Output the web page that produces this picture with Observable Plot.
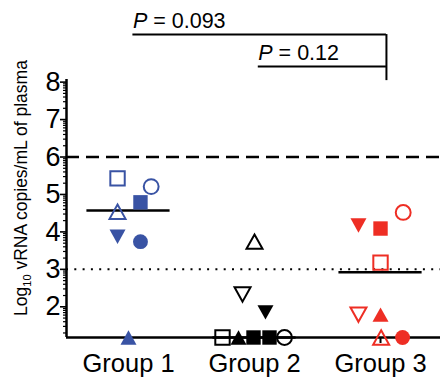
<!DOCTYPE html>
<html>
<head>
<meta charset="utf-8">
<script src="https://cdn.jsdelivr.net/npm/d3@7"></script>
<script src="https://cdn.jsdelivr.net/npm/@observablehq/plot@0.6"></script>
<style>
  html, body { margin: 0; padding: 0; background: #fff; }
  svg { display: block; }
</style>
</head>
<body>
<div id="chart"></div>
<script>
// ---- data ----
const groupLabels = ["Group 1", "Group 2", "Group 3"];
const groupColors = ["#3953a4", "#000000", "#ee2e24"];

const group1Values  = [5.43, 5.21, 4.79, 4.54, 3.87, 3.74, 1.18];
const group1Markers = ["square", "circle", "squareFilled", "triangle", "triangleDownFilled", "circleFilled", "triangleFilled"];
const group1Jitter  = [-0.087, 0.18, 0.095, -0.087, -0.087, 0.095, 0];

const group2Values  = [3.74, 2.33, 1.85, 1.18, 1.18, 1.18, 1.18, 1.18];
const group2Markers = ["triangle", "triangleDown", "triangleDownFilled", "square", "triangleFilled", "squareFilled", "squareFilled", "circle"];
const group2Jitter  = [0, -0.095, 0.087, -0.254, -0.127, -0.008, 0.119, 0.238];

const group3Values  = [4.52, 4.17, 4.09, 3.18, 1.79, 1.79, 1.18, 1.18];
const group3Markers = ["circle", "triangleDownFilled", "squareFilled", "square", "triangleDown", "triangleFilled", "triangle", "circleFilled"];
const group3Jitter  = [0.18, -0.175, 0, 0, -0.175, 0, 0.005, 0.175];

const summaryLines = [4.57, 1.18, 2.92];
const yTickLabels = [2, 3, 4, 5, 6, 7, 8];
const upperThreshold = 6;
const lowerThreshold = 3;
const detectionLimit = 1.18;
const comparisonFrom = [1, 2];
const comparisonTo = [3, 3];
const comparisonP = ["0.093", "0.12"];

// ---- build table ----
const allValues = [group1Values, group2Values, group3Values];
const allMarkers = [group1Markers, group2Markers, group3Markers];
const allJitter = [group1Jitter, group2Jitter, group3Jitter];
const rows = [];
allValues.forEach((vals, gi) => vals.forEach((v, i) => {
  const m = allMarkers[gi][i];
  const filled = m.endsWith("Filled");
  rows.push({
    g: gi + 1 + allJitter[gi][i],
    value: v,
    shape: m.replace("Filled", ""),
    fill: filled ? groupColors[gi] : "none",
    stroke: filled ? "none" : groupColors[gi]
  });
}));
const summaryRows = summaryLines.map((v, i) => ({g: i + 1, value: v}));

// log-style minor ticks
const minorTicks = [];
for (let k = 1; k < 8; k++) for (let m = 2; m <= 9; m++) {
  const t = k + Math.log10(m);
  if (t > detectionLimit && t < 8.07) minorTicks.push(t);
}

// custom symbols
const symbols = {
  square: {draw(c, s) { const r = Math.sqrt(s / Math.PI) * 0.9; c.rect(-r, -r, 2 * r, 2 * r); }},
  circle: {draw(c, s) { const r = Math.sqrt(s / Math.PI) * 0.93; c.moveTo(r, 0); c.arc(0, 0, r, 0, 2 * Math.PI); c.closePath(); }},
  triangle: {draw(c, s) { const r = Math.sqrt(s / Math.PI); c.moveTo(0, -0.9 * r); c.lineTo(r, 0.9 * r); c.lineTo(-r, 0.9 * r); c.closePath(); }},
  triangleDown: {draw(c, s) { const r = Math.sqrt(s / Math.PI); c.moveTo(0, 0.9 * r); c.lineTo(r, -0.9 * r); c.lineTo(-r, -0.9 * r); c.closePath(); }}
};

const xDomain = [0.508, 3.476];
const yDomain = [detectionLimit, 8.07];

// bracket levels (above the frame)
const bracketLevels = [9.27, 8.42];
const brackets = comparisonFrom.map((f, i) => ({
  x1: f + 0.035 + (i === 1 ? -0.005 : 0), x2: comparisonTo[i] + 0.047, y: bracketLevels[i], p: comparisonP[i]
}));

const dotMarks = Object.keys(symbols).map(k =>
  Plot.dot(rows.filter(d => d.shape === k), {
    x: "g", y: "value", symbol: symbols[k], r: 8,
    fill: "fill", stroke: "stroke", strokeWidth: 2
  })
);

const chart = Plot.plot({
  width: 440,
  height: 379,
  marginLeft: 66,
  marginRight: 0,
  marginTop: 79,
  marginBottom: 42,
  style: {fontFamily: "'Liberation Sans', Arial, Helvetica, sans-serif", background: "#fff", overflow: "visible", color: "#000"},
  x: {type: "linear", domain: xDomain, axis: null},
  y: {type: "linear", domain: yDomain, axis: null},
  color: {type: "identity"},
  marks: [
    Plot.ruleY([upperThreshold], {stroke: "#000", strokeWidth: 2.5, strokeDasharray: "13,7"}),
    Plot.ruleY([lowerThreshold], {stroke: "#000", strokeWidth: 2, strokeDasharray: "2,6.3"}),
    Plot.ruleY(summaryRows, {y: "value", x1: d => d.g - 0.33, x2: d => d.g + 0.33, stroke: "#000", strokeWidth: 2.5}),
    Plot.axisY(minorTicks, {tickSize: 3, strokeWidth: 1.2, tickFormat: () => "", label: null}),
    Plot.axisY(yTickLabels, {tickSize: 6, tickPadding: 0, strokeWidth: 1.6, fontSize: 27, label: null, tickFormat: d => String(d)}),
    Plot.axisX([1, 2, 3], {tickSize: 6, tickPadding: 10, strokeWidth: 2, fontSize: 25.5, label: null, tickFormat: d => groupLabels[d - 1]}),
    Plot.ruleY([detectionLimit], {stroke: "#000", strokeWidth: 2.5}),
    Plot.ruleX([xDomain[0]], {stroke: "#000", strokeWidth: 2.5, y1: detectionLimit, y2: yDomain[1]}),
    ...dotMarks,
    // significance brackets
    Plot.ruleY(brackets, {y: "y", x1: "x1", x2: "x2", stroke: "#000", strokeWidth: 2}),
    Plot.ruleX([brackets[0]], {x: "x2", y1: "y", y2: 8.04, stroke: "#000", strokeWidth: 2}),
    Plot.text(brackets, {x: d => d.x1, y: d => d.y + 0.165, text: d => "P = " + d.p, textAnchor: "start", lineAnchor: "bottom", fontSize: 21.5})
  ]
});

document.getElementById("chart").appendChild(chart);

// italic P in p-values
d3.select(chart).selectAll("text").each(function() {
  const t = d3.select(this);
  const s = t.text();
  if (!s.startsWith("P = ")) return;
  t.text(null);
  t.append("tspan").attr("font-style", "italic").text("P");
  t.append("tspan").text(s.slice(1));
});

// y-axis title with subscript
const title = d3.select(chart).append("text")
  .attr("transform", "translate(27,188) rotate(-90)")
  .attr("text-anchor", "middle")
  .attr("font-size", 17.5)
  .attr("fill", "#000");
title.append("tspan").text("Log");
title.append("tspan").attr("font-size", 11).attr("dy", 4).text("10");
title.append("tspan").attr("dy", -4).text(" vRNA copies/mL of plasma");
</script>
</body>
</html>
